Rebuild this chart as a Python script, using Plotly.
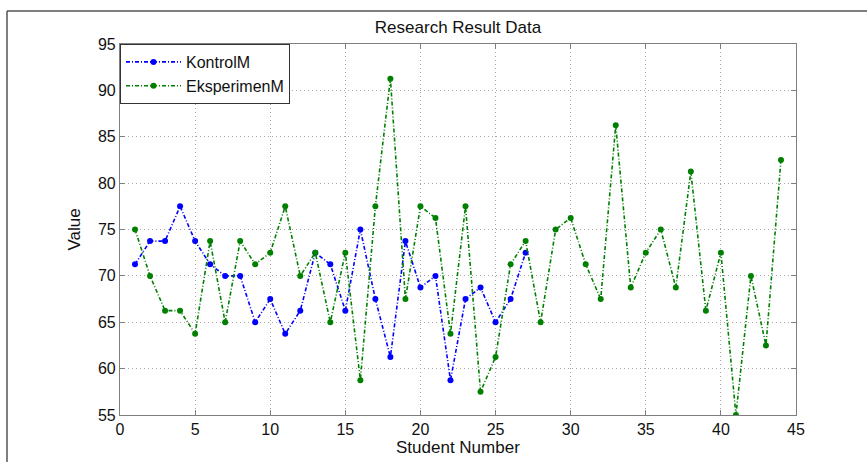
import plotly.graph_objects as go

students_kontrol = list(range(1, 28))
kontrol = [71.25, 73.75, 73.75, 77.5, 73.75, 71.25, 70, 70, 65, 67.5,
           63.75, 66.25, 72.5, 71.25, 66.25, 75, 67.5, 61.25, 73.75, 68.75,
           70, 58.75, 67.5, 68.75, 65, 67.5, 72.5]

students_eksperimen = list(range(1, 45))
eksperimen = [75, 70, 66.25, 66.25, 63.75, 73.75, 65, 73.75, 71.25, 72.5,
              77.5, 70, 72.5, 65, 72.5, 58.75, 77.5, 91.25, 67.5, 77.5,
              76.25, 63.75, 77.5, 57.5, 61.25, 71.25, 73.75, 65, 75, 76.25,
              71.25, 67.5, 86.25, 68.75, 72.5, 75, 68.75, 81.25, 66.25, 72.5,
              55, 70, 62.5, 82.5]

x_ticks = [0, 5, 10, 15, 20, 25, 30, 35, 40, 45]
y_ticks = [55, 60, 65, 70, 75, 80, 85, 90, 95]

FONT = "Liberation Sans, Arial, sans-serif"
DASH = "4px,2px,1px,2px"

fig = go.Figure()
fig.add_trace(go.Scatter(
    x=students_kontrol, y=kontrol, name="KontrolM", mode="lines+markers",
    line=dict(color="#0000FF", width=1.6, dash=DASH),
    marker=dict(color="#0000FF", size=6),
))
fig.add_trace(go.Scatter(
    x=students_eksperimen, y=eksperimen, name="EksperimenM", mode="lines+markers",
    line=dict(color="#008000", width=1.6, dash=DASH),
    marker=dict(color="#008000", size=6),
))

axis_common = dict(
    showline=True, linecolor="#7f7f7f", linewidth=1.2, mirror="ticks",
    ticks="inside", ticklen=5, tickcolor="#7f7f7f",
    showgrid=True, gridcolor="#a8a8a8", griddash="1px,3px", gridwidth=1,
    zeroline=False, tickfont=dict(family=FONT, size=16, color="#111"),
)

# plot area target on screen: x 120..796, y 44..415
ML, MT = 120, 44
PW, PH = 676, 371
fig.update_layout(
    width=867, height=462,
    paper_bgcolor="white", plot_bgcolor="white",
    margin=dict(l=ML, r=867 - ML - PW, t=MT, b=462 - MT - PH),
    title=dict(text="Research Result Data", x=(ML + PW / 2) / 867, xanchor="center",
               y=1 - 27 / 462, yanchor="middle",
               font=dict(family=FONT, size=17, color="#111")),
    font=dict(family=FONT, color="#111"),
    showlegend=True,
    legend=dict(x=0, y=1, xanchor="left", yanchor="top",
                bordercolor="#333", borderwidth=1, bgcolor="white",
                font=dict(family=FONT, size=16, color="#111"),
                tracegroupgap=0, itemwidth=55),
    xaxis=dict(range=[0, 45], tickvals=x_ticks, **axis_common),
    yaxis=dict(range=[55, 95], tickvals=y_ticks,
               title=dict(text="Value", standoff=12,
                          font=dict(family=FONT, size=17, color="#111")),
               **axis_common),
)

# x-axis title placed as annotation (reference sits tight under tick labels)
fig.add_annotation(text="Student Number", xref="paper", yref="paper",
                   x=0.5, y=-(448 - 415) / PH, xanchor="center", yanchor="middle",
                   showarrow=False, font=dict(family=FONT, size=17, color="#111"))

# outer frame (top and left edges visible in the reference)
fx = (7 - ML) / PW
fy = (415 - 11) / PH
fig.add_shape(type="line", xref="paper", yref="paper", x0=fx, x1=1.3, y0=fy, y1=fy,
              line=dict(color="#555", width=1.5))
fig.add_shape(type="line", xref="paper", yref="paper", x0=fx, x1=fx, y0=fy, y1=-0.3,
              line=dict(color="#555", width=1.5))

fig.write_html("out.html", config={"displayModeBar": False},
               post_script="document.body.style.margin='0';document.body.style.overflow='hidden';")
